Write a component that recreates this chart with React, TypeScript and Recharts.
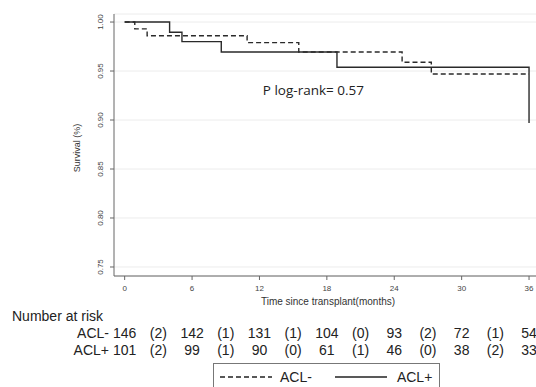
import React from "react";
import {
  LineChart,
  Line,
  XAxis,
  YAxis,
  CartesianGrid,
  Legend,
  ReferenceDot,
} from "recharts";

if (typeof document !== "undefined") {
  document.body.style.margin = "0";
}

// Kaplan-Meier step points (months, survival)
const aclMinusTimes = [0, 0.9, 2.0, 10.9, 15.5, 24.7, 27.3, 36];
const aclMinusSurv = [1.0, 0.993, 0.986, 0.979, 0.9694, 0.959, 0.947, 0.947];
const aclPlusTimes = [0, 4.0, 5.1, 8.6, 18.9, 36];
const aclPlusSurv = [1.0, 0.9895, 0.98, 0.9694, 0.9538, 0.897];

// Axis ticks
const xTicks = [0, 6, 12, 18, 24, 30, 36];
const yTicks = [0.75, 0.8, 0.85, 0.9, 0.95, 1.0];
const midTicks = [3, 9, 15, 21, 27, 33];

// Number at risk table
const atRiskMinus = [146, 142, 131, 104, 93, 72, 54];
const censoredMinus = [2, 1, 1, 0, 2, 1];
const atRiskPlus = [101, 99, 90, 61, 46, 38, 33];
const censoredPlus = [2, 1, 0, 1, 0, 2];

const seriesOrder = ["ACL-", "ACL+"];
const pText = "P log-rank= 0.57";

const minusData = aclMinusTimes.map((t, i) => ({ t, s: aclMinusSurv[i] }));
const plusData = aclPlusTimes.map((t, i) => ({ t, s: aclPlusSurv[i] }));
const riskTicks = [...xTicks, ...midTicks].sort((a, b) => a - b);

const FONT = "'Liberation Sans', Arial, sans-serif";

function riskLabel(v: number, row: "minus" | "plus") {
  const i6 = xTicks.indexOf(v);
  if (i6 >= 0) return String(row === "minus" ? atRiskMinus[i6] : atRiskPlus[i6]);
  const im = midTicks.indexOf(v);
  if (im >= 0) return `(${row === "minus" ? censoredMinus[im] : censoredPlus[im]})`;
  return "";
}

const RiskTick = (p: any) => {
  const v = p.payload?.value;
  return (
    <g>
      <text x={p.x} y={p.y + 23} textAnchor="middle" dominantBaseline="central" fontSize={14} fill="#222" fontFamily={FONT}>
        {riskLabel(v, "minus")}
      </text>
      <text x={p.x} y={p.y + 40} textAnchor="middle" dominantBaseline="central" fontSize={14} fill="#222" fontFamily={FONT}>
        {riskLabel(v, "plus")}
      </text>
    </g>
  );
};

const RiskLabel = (props: any) => {
  const vb = props.viewBox || { x: 114, y: 310 };
  return (
    <g fontFamily={FONT} fontSize={14} fill="#222">
      <text x={vb.x - 102} y={vb.y + 6} dominantBaseline="central" textAnchor="start">Number at risk</text>
      <text x={vb.x - 5} y={vb.y + 23} dominantBaseline="central" textAnchor="end">ACL-</text>
      <text x={vb.x - 5} y={vb.y + 40} dominantBaseline="central" textAnchor="end">ACL+</text>
    </g>
  );
};

const YTick = (p: any) => {
  const x = p.x - 7;
  const y = p.y;
  return (
    <text x={x} y={y} transform={`rotate(-90 ${x} ${y})`} textAnchor="middle" dominantBaseline="central" fontSize={8} fill="#444" fontFamily={FONT}>
      {Number(p.payload?.value).toFixed(2)}
    </text>
  );
};

const YLabel = (props: any) => {
  const vb = props.viewBox || { x: 0, y: 14, width: 114, height: 262 };
  const x = vb.x + 77;
  const y = vb.y + vb.height / 2 + 3;
  return (
    <text x={x} y={y} transform={`rotate(-90 ${x} ${y})`} textAnchor="middle" dominantBaseline="central" fontSize={9} fill="#333" fontFamily={FONT}>
      Survival (%)
    </text>
  );
};

const PLabel = (props: any) => {
  const vb = props.viewBox || { x: 0, y: 0 };
  return (
    <text x={vb.x} y={vb.y} textAnchor="start" dominantBaseline="central" fontSize={13.5} fill="#222" fontFamily="'Open Sans', sans-serif">
      {pText}
    </text>
  );
};

const LegendContent = (props: any) => {
  const payload = (props.payload || [])
    .filter((e: any) => seriesOrder.indexOf(e.value) >= 0)
    .sort((a: any, b: any) => seriesOrder.indexOf(a.value) - seriesOrder.indexOf(b.value));
  return (
    <div
      style={{
        borderTop: "1px solid #777",
        borderLeft: "1px solid #777",
        borderRight: "1px solid #777",
        boxSizing: "border-box",
        width: 227,
        height: 24,
        display: "flex",
        alignItems: "center",
        fontFamily: FONT,
        fontSize: 14,
        color: "#222",
        background: "#fff",
        paddingLeft: 6,
        paddingTop: 3,
      }}
    >
      {payload.map((e: any, i: number) => (
        <div key={i} style={{ display: "flex", alignItems: "center", marginLeft: i === 0 ? 0 : 23 }}>
          <svg width={52} height={4} style={{ display: "block" }}>
            <line x1={0} y1={2} x2={52} y2={2} stroke="#222" strokeWidth={1.3} strokeDasharray={e.payload?.strokeDasharray} />
          </svg>
          <span style={{ marginLeft: i === 0 ? 8 : 10 }}>{e.value}</span>
        </div>
      ))}
    </div>
  );
};

export default function App() {
  return (
    <LineChart width={536} height={387} margin={{ top: 14, right: 0, bottom: 27, left: 0 }}>
      <CartesianGrid vertical={false} stroke="#ececec" />
      <XAxis
        xAxisId={0}
        type="number"
        dataKey="t"
        domain={[-0.95, 36.62]}
        allowDataOverflow
        ticks={xTicks}
        interval={0}
        height={34}
        tickSize={4}
        tickMargin={5}
        stroke="#666"
        tick={{ fontSize: 8, fill: "#444", fontFamily: FONT }}
        label={{ value: "Time since transplant(months)", position: "insideBottom", offset: 5, dx: 3, fontSize: 10, fill: "#333", fontFamily: FONT }}
      />
      <XAxis
        xAxisId="risk"
        type="number"
        dataKey="t"
        domain={[-0.95, 36.62]}
        allowDataOverflow
        ticks={riskTicks}
        interval={0}
        height={50}
        axisLine={false}
        tickLine={false}
        tickSize={0}
        tickMargin={0}
        tick={RiskTick}
        label={RiskLabel}
      />
      <YAxis
        type="number"
        domain={[0.7408, 1.0082]}
        allowDataOverflow
        ticks={yTicks}
        interval={0}
        width={114}
        tickSize={4}
        tickMargin={2}
        stroke="#666"
        tick={YTick}
        label={YLabel}
      />
      <Line
        name="ACL-"
        data={minusData}
        dataKey="s"
        type="stepAfter"
        stroke="#2a2a2a"
        strokeWidth={1.4}
        strokeDasharray="5 3"
        dot={false}
        activeDot={false}
        isAnimationActive={false}
      />
      <Line
        name="ACL+"
        data={plusData}
        dataKey="s"
        type="stepAfter"
        stroke="#2a2a2a"
        strokeWidth={1.4}
        dot={false}
        activeDot={false}
        isAnimationActive={false}
      />
      <Line
        name="risk-anchor"
        xAxisId="risk"
        data={minusData}
        dataKey="s"
        type="stepAfter"
        stroke="none"
        strokeWidth={0}
        legendType="none"
        dot={false}
        activeDot={false}
        isAnimationActive={false}
      />
      <ReferenceDot x={12.3} y={0.9306} r={0} fill="none" stroke="none" label={PLabel} />
      <Legend
        layout="horizontal"
        verticalAlign="middle"
        align="center"
        content={LegendContent}
        wrapperStyle={{ position: "absolute", left: 213, top: 363, width: 227, height: 24 }}
      />
    </LineChart>
  );
}
